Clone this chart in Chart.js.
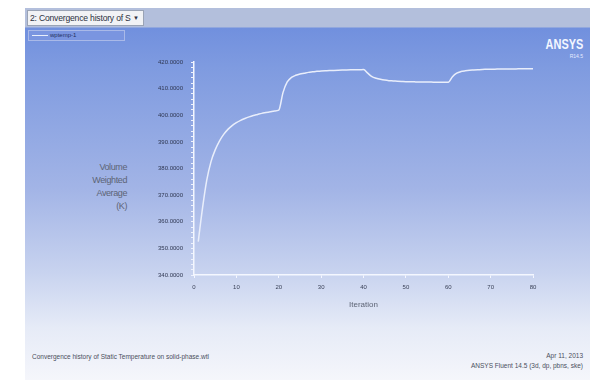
<!DOCTYPE html>
<html>
<head>
<meta charset="utf-8">
<script src="https://cdn.jsdelivr.net/npm/chart.js@4/dist/chart.umd.min.js"></script>
<style>
  html, body { margin: 0; padding: 0; background: #ffffff; }
  body { width: 597px; height: 382px; position: relative; overflow: hidden; font-family: "Liberation Sans", Arial, sans-serif; }
  #panel {
    position: absolute; left: 25px; top: 8px; width: 565px; height: 372px;
    background: linear-gradient(to bottom,
      #b3bfdc 0px, #b3bfdc 19px,
      #7190de 20px, #7f9be0 60px, #a2b4e6 180px, #c8d3ef 265px,
      #e6ebf7 320px, #f5f6fb 372px);
  }
  #wrap { position: absolute; left: 0; top: 0; width: 597px; height: 382px; }
  .txt { position: absolute; white-space: nowrap; }
  #dropdown {
    position: absolute; left: 27px; top: 10px; width: 117px; height: 16px;
    background: #f1f2f5; border: 1px solid #9aa3b5; box-sizing: border-box;
    font-size: 8.6px; letter-spacing: -0.2px; color: #2c3140; line-height: 14px; padding-left: 2px;
  }
  #dropdown span { position: absolute; right: 4px; top: 0; font-size: 6px; letter-spacing: 0; }
  #legend {
    position: absolute; left: 28px; top: 30px; width: 97px; height: 11px;
    border: 1px solid #a9b9e8; box-sizing: border-box; background: #7a95e0;
  }
  #legend i { position: absolute; left: 3px; top: 4px; width: 16px; height: 1px; background: #e8eefb; }
  #legend b { position: absolute; left: 21px; top: -1px; font-weight: normal; font-size: 6px; color: #243060; line-height: 11px; }
  #logo { right: 14px; top: 36px; font-size: 14px; font-weight: bold; color: #f4f7ff; transform: scaleX(0.78); transform-origin: right center; }
  #rel { right: 14px; top: 53px; font-size: 5px; color: #e6ecff; }
  #ytitle { right: 470px; top: 161px; font-size: 9px; letter-spacing: -0.4px; color: #5d6475; text-align: right; line-height: 13px; }
  #foot1 { left: 32px; top: 353px; font-size: 6.5px; color: #4a4f5c; }
  #foot2 { right: 14px; top: 351px; font-size: 6.5px; color: #4a4f5c; text-align: right; line-height: 10px; }
</style>
</head>
<body>
<div id="panel"></div>
<div id="dropdown">2: Convergence history of S<span>&#9660;</span></div>
<div id="legend"><i></i><b>wptemp-1</b></div>
<div class="txt" id="logo">ANSYS</div>
<div class="txt" id="rel">R14.5</div>
<div class="txt" id="ytitle">Volume<br>Weighted<br>Average<br>(K)</div>
<div class="txt" id="foot1">Convergence history of Static Temperature on solid-phase.wtl</div>
<div class="txt" id="foot2">Apr 11, 2013<br>ANSYS Fluent 14.5 (3d, dp, pbns, ske)</div>
<div id="wrap"><canvas id="c" width="597" height="382"></canvas></div>
<script>
// Iteration numbers and the volume-weighted average static temperature (K)
const iterations = [
  1, 2, 3, 4, 5, 6, 7, 8, 9, 10,
  11, 12, 13, 14, 15, 16, 17, 18, 19, 20,
  21, 22, 23, 24, 25, 26, 27, 28, 29, 30,
  31, 32, 33, 34, 35, 36, 37, 38, 39, 40,
  41, 42, 43, 44, 45, 46, 47, 48, 49, 50,
  51, 52, 53, 54, 55, 56, 57, 58, 59, 60,
  61, 62, 63, 64, 65, 66, 67, 68, 69, 70,
  71, 72, 73, 74, 75, 76, 77, 78, 79, 80
];
const wptemp1 = [
  352.5, 365.0, 375.5, 382.5, 387.0, 390.3, 392.8, 394.7, 396.1, 397.2,
  398.1, 398.8, 399.4, 399.9, 400.3, 400.7, 401.0, 401.3, 401.6, 401.9,
  408.5, 412.5, 414.2, 415.0, 415.5, 415.8, 416.1, 416.3, 416.5, 416.6,
  416.7, 416.8, 416.85, 416.9, 416.95, 417.0, 417.05, 417.1, 417.1, 417.15,
  415.8, 414.5, 413.9, 413.5, 413.2, 413.0, 412.9, 412.8, 412.7, 412.6,
  412.6, 412.55, 412.5, 412.5, 412.45, 412.45, 412.4, 412.4, 412.4, 412.4,
  414.5, 415.8, 416.4, 416.7, 416.9, 417.0, 417.1, 417.2, 417.25, 417.3,
  417.3, 417.35, 417.35, 417.4, 417.4, 417.4, 417.45, 417.45, 417.45, 417.5
];
const xTicks = [0, 10, 20, 30, 40, 50, 60, 70, 80];
const yTicks = [340, 350, 360, 370, 380, 390, 400, 410, 420];

const points = iterations.map((it, i) => ({ x: it, y: wptemp1[i] }));

new Chart(document.getElementById('c'), {
  type: 'line',
  data: {
    datasets: [{
      label: 'wptemp-1',
      data: points,
      borderColor: '#e9eefb',
      borderWidth: 1.5,
      pointRadius: 0,
      fill: false,
      cubicInterpolationMode: 'monotone'
    }]
  },
  options: {
    responsive: false,
    animation: false,
    events: [],
    layout: { padding: { left: 134, right: 64, top: 62, bottom: 67 } },
    plugins: { legend: { display: false }, tooltip: { enabled: false } },
    scales: {
      x: {
        type: 'linear',
        min: xTicks[0],
        max: xTicks[xTicks.length - 1],
        afterBuildTicks: s => { s.ticks = xTicks.map(v => ({ value: v })); },
        afterFit: s => { s.height = 40; },
        border: { color: '#f4f7ff', width: 1.5 },
        grid: { drawOnChartArea: false, tickLength: 3, color: '#f4f7ff' },
        ticks: { font: { size: 6, family: 'Liberation Sans' }, color: '#3a4258', padding: 6, maxRotation: 0 },
        title: {
          display: true, text: 'Iteration',
          font: { size: 8, family: 'Liberation Sans' }, color: '#5d6475',
          padding: { top: 0, bottom: 5 }
        }
      },
      y: {
        min: yTicks[0],
        max: yTicks[yTicks.length - 1],
        afterBuildTicks: s => {
          const t = [];
          for (let v = yTicks[0]; v <= yTicks[yTicks.length - 1]; v += 2) t.push({ value: v });
          s.ticks = t;
        },
        afterFit: s => { s.width = 60; },
        border: { color: '#f4f7ff', width: 1.5 },
        grid: { drawOnChartArea: false, tickLength: 3, color: '#eef2fd' },
        ticks: {
          autoSkip: false,
          font: { size: 6, family: 'Liberation Sans' },
          color: '#2e3650',
          padding: 8,
          callback: v => (yTicks.includes(v) ? v.toFixed(4) : '')
        }
      }
    }
  }
});
</script>
</body>
</html>
